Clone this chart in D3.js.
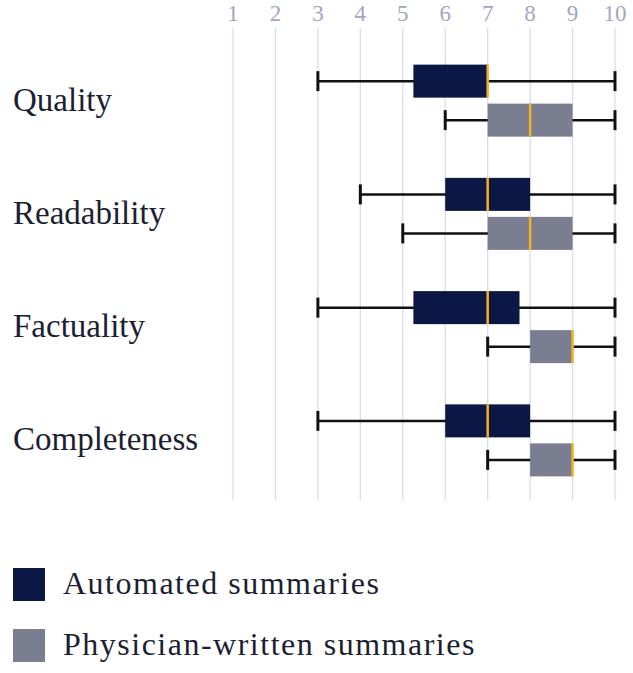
<!DOCTYPE html>
<html><head><meta charset="utf-8">
<script src="https://cdn.jsdelivr.net/npm/d3@7"></script>
<style>body{margin:0;background:#fff}svg{display:block}</style>
</head><body>
<svg id="c" width="633" height="673"></svg>
<script>
const categories = ["Quality", "Readability", "Factuality", "Completeness"];
const seriesNames = ["Automated summaries", "Physician-written summaries"];
const tickValues = [1,2,3,4,5,6,7,8,9,10];
// [min, q1, median, q3, max] per category
const automated = [
  [3, 5.25, 7, 7, 10],
  [4, 6, 7, 8, 10],
  [3, 5.25, 7, 7.75, 10],
  [3, 6, 7, 8, 10]
];
const physician = [
  [6, 7, 8, 9, 10],
  [5, 7, 8, 9, 10],
  [7, 8, 9, 9, 10],
  [7, 8, 9, 9, 10]
];
const colors = ["#0b1744", "#7b7e90"];
const medianColor = "#f4b21f";

const svg = d3.select("#c");
const font = "'Liberation Serif', 'DejaVu Serif', serif";

const x = d3.scaleLinear().domain([1, 10]).range([233, 615]);
const y = d3.scaleBand().domain(categories).range([44, 497]);
const inner = d3.scaleBand().domain(seriesNames).range([-39, 39]);

// grid + top labels
svg.append("g").selectAll("line").data(tickValues).join("line")
  .attr("x1", d => x(d)).attr("x2", d => x(d))
  .attr("y1", 28).attr("y2", 500)
  .attr("stroke", "#dadcea").attr("stroke-width", 1.3);
svg.append("g").selectAll("text").data(tickValues).join("text")
  .attr("x", d => x(d)).attr("y", 21)
  .attr("text-anchor", "middle")
  .attr("font-family", font).attr("font-size", 23)
  .attr("fill", "#a3a6c2").text(d => d);

// category labels
svg.append("g").selectAll("text").data(categories).join("text")
  .attr("x", 13).attr("y", d => y(d) + y.bandwidth() / 2 + 10)
  .attr("font-family", font).attr("font-size", 33)
  .attr("fill", "#1c1f33").text(d => d);

const boxH = 33, capH = 20;
const allData = [automated, physician];
allData.forEach((arr, si) => {
  const g = svg.append("g");
  const items = arr.map((v, i) => ({ cat: categories[i], v }));
  const cy = d => y(d.cat) + y.bandwidth() / 2 + inner(seriesNames[si]) + inner.bandwidth() / 2;
  g.selectAll(".wl").data(items).join("line")
    .attr("x1", d => x(d.v[0])).attr("x2", d => x(d.v[4]))
    .attr("y1", cy).attr("y2", cy)
    .attr("stroke", "#111").attr("stroke-width", 2.5);
  [0, 4].forEach(k => {
    g.selectAll(".cap" + k).data(items).join("line")
      .attr("x1", d => x(d.v[k])).attr("x2", d => x(d.v[k]))
      .attr("y1", d => cy(d) - capH / 2).attr("y2", d => cy(d) + capH / 2)
      .attr("stroke", "#111").attr("stroke-width", 3);
  });
  g.selectAll(".box").data(items).join("rect")
    .attr("x", d => x(d.v[1])).attr("width", d => x(d.v[3]) - x(d.v[1]))
    .attr("y", d => cy(d) - boxH / 2).attr("height", boxH)
    .attr("fill", colors[si]);
  g.selectAll(".med").data(items).join("line")
    .attr("x1", d => x(d.v[2])).attr("x2", d => x(d.v[2]))
    .attr("y1", d => cy(d) - boxH / 2).attr("y2", d => cy(d) + boxH / 2)
    .attr("stroke", medianColor).attr("stroke-width", 2.5);
});

// legend
const lg = svg.append("g").selectAll("g").data(seriesNames).join("g")
  .attr("transform", (d, i) => `translate(13, ${568 + i * 61})`);
lg.append("rect").attr("width", 32).attr("height", 33).attr("fill", (d, i) => colors[i]);
lg.append("text").attr("x", 50).attr("y", 26)
  .attr("font-family", font).attr("font-size", 32).attr("letter-spacing", 1.5)
  .attr("fill", "#1c1f33").text(d => d);
</script>
</body></html>
